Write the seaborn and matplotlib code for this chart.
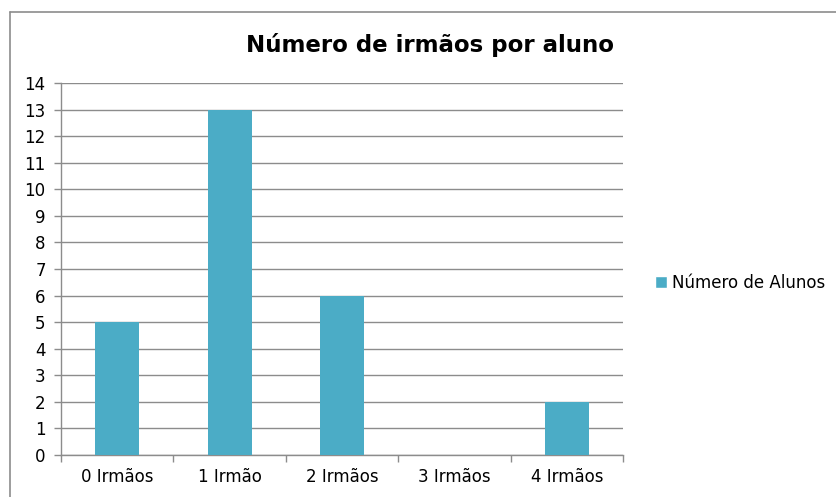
import matplotlib
matplotlib.use("Agg")
import matplotlib.pyplot as plt
import seaborn as sns
import pandas as pd
from matplotlib.lines import Line2D
from matplotlib.patches import Patch

categorias = ["0 Irmãos", "1 Irmão", "2 Irmãos", "3 Irmãos", "4 Irmãos"]
alunos = [5, 13, 6, 0, 2]
serie = "Número de Alunos"
titulo = "Número de irmãos por aluno"

df = pd.DataFrame({"cat": categorias, "n": alunos})

sns.set_theme(style="white")
plt.rcParams["font.family"] = ["DejaVu Sans"]

W, H = 837, 497
fig = plt.figure(figsize=(W / 100, H / 100), dpi=100)
ax = fig.add_axes([61 / W, 1 - 455 / H, (623 - 61) / W, (455 - 83) / H])

cor = "#4BACC6"
sns.barplot(data=df, x="cat", y="n", color=cor, width=0.39, ax=ax,
            saturation=1, edgecolor="none", zorder=3)

ax.set_ylim(0, 14)
ax.set_xlim(-0.5, 4.5)
ax.set_yticks(range(0, 15))
ax.yaxis.grid(True, color="#8c8c8c", linewidth=1, zorder=0)
ax.set_xlabel("")
ax.set_ylabel("")

for s in ["top", "right"]:
    ax.spines[s].set_visible(False)
for s in ["left", "bottom"]:
    ax.spines[s].set_color("#8c8c8c")
    ax.spines[s].set_linewidth(1)

ax.tick_params(axis="y", length=5, color="#8c8c8c", width=1, labelsize=12, pad=6, left=True)
ax.tick_params(axis="x", which="major", length=0, labelsize=12, pad=9)
ax.set_xticks([i - 0.5 for i in range(len(categorias) + 1)], minor=True)
ax.tick_params(axis="x", which="minor", length=5, color="#8c8c8c", width=1, bottom=True)
for t in ax.get_xticklabels() + ax.get_yticklabels():
    t.set_color("black")

fig.text(430 / W, 1 - 45 / H, titulo, ha="center", va="center",
         fontsize=16.5, fontweight="bold", color="black")

leg = fig.legend(handles=[Patch(facecolor=cor, label=serie)], loc="center left",
                 bbox_to_anchor=(640 / W, 1 - 283 / H), frameon=False, fontsize=12,
                 handlelength=0.7, handleheight=0.7, handletextpad=0.3)
for t in leg.get_texts():
    t.set_color("black")

# frame of the chart area
fig.add_artist(Line2D([10 / W, 10 / W], [0, 1 - 12 / H], transform=fig.transFigure,
                      color="#8c8c8c", linewidth=1.2))
fig.add_artist(Line2D([10 / W, 1], [1 - 12 / H, 1 - 12 / H], transform=fig.transFigure,
                      color="#8c8c8c", linewidth=1.2))

fig.savefig("out.png", dpi=100)
